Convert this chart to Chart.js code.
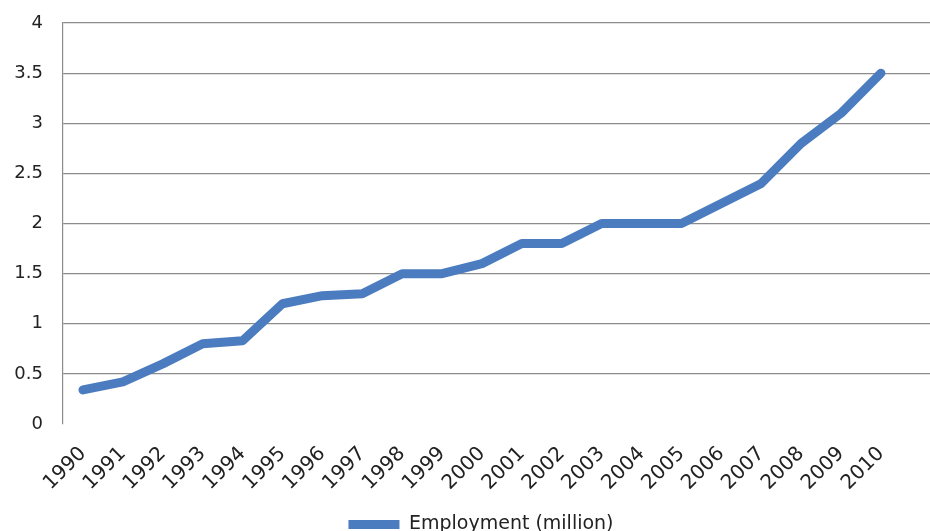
<!DOCTYPE html>
<html>
<head>
<meta charset="utf-8">
<script src="https://cdn.jsdelivr.net/npm/chart.js@4"></script>
<style>
  html, body { margin: 0; padding: 0; background: #fff; overflow: hidden; }
  #wrap { width: 948px; height: 544px; }
</style>
</head>
<body>
<div id="wrap"><canvas id="myChart" width="948" height="544"></canvas></div>
<script>
var years = [1990, 1991, 1992, 1993, 1994, 1995, 1996, 1997, 1998, 1999, 2000,
             2001, 2002, 2003, 2004, 2005, 2006, 2007, 2008, 2009, 2010];
var employment = [0.34, 0.42, 0.6, 0.8, 0.83, 1.2, 1.28, 1.3, 1.5, 1.5, 1.6,
                  1.8, 1.8, 2.0, 2.0, 2.0, 2.2, 2.4, 2.8, 3.1, 3.5];
var seriesName = "Employment (million)";

var points = years.map(function(y, i) {
  return { x: y, y: employment[i] };
});

var ctx = document.getElementById("myChart").getContext('2d');
var font = "'DejaVu Sans', sans-serif";
var lineColor = '#4a7cbf';

var myChart = new Chart(ctx, {
  type: 'line',
  data: {
    datasets: [{
      label: seriesName,
      data: points,
      borderColor: lineColor,
      backgroundColor: lineColor,
      borderWidth: 9,
      borderJoinStyle: 'round',
      borderCapStyle: 'round',
      tension: 0,
      pointRadius: 0,
      fill: false
    }]
  },
  options: {
    responsive: false,
    animation: false,
    layout: { autoPadding: false, padding: { left: 14, right: 0, top: 23, bottom: 0 } },
    plugins: {
      tooltip: { enabled: false },
      legend: {
        position: 'bottom',
        labels: {
          color: '#222',
          font: { family: font, size: 19 },
          boxWidth: 51,
          boxHeight: 9,
          padding: 2,
          generateLabels: function(chart) {
            var items = Chart.defaults.plugins.legend.labels.generateLabels(chart);
            items.forEach(function(it) {
              it.lineWidth = 0;
              it.fillStyle = lineColor;
            });
            return items;
          }
        }
      }
    },
    scales: {
      x: {
        type: 'linear',
        min: 1989.5,
        max: 2011.68,
        afterBuildTicks: function(scale) {
          scale.ticks = years.map(function(y) { return { value: y }; });
        },
        afterFit: function(scale) {
          scale.paddingLeft = 0;
          scale.paddingRight = 0;
        },
        grid: { display: false, drawTicks: false },
        border: { display: false },
        ticks: {
          autoSkip: false,
          minRotation: 45,
          maxRotation: 45,
          padding: 18,
          color: '#222',
          font: { family: font, size: 20 },
          callback: function(v) { return String(v); }
        }
      },
      y: {
        min: 0,
        max: 4,
        afterFit: function(scale) {
          scale.width = 49;
          scale.paddingTop = 0;
          scale.paddingBottom = 0;
        },
        grid: {
          color: function(c) { return c.tick && c.tick.value === 0 ? 'rgba(0,0,0,0)' : '#8c8c8c'; },
          lineWidth: 1.2,
          drawTicks: false
        },
        border: { display: true, color: '#8c8c8c', width: 1.2 },
        ticks: {
          stepSize: 0.5,
          padding: 20,
          color: '#222',
          font: { family: font, size: 18 },
          callback: function(v) { return String(v); }
        }
      }
    }
  }
});
</script>
</body>
</html>
